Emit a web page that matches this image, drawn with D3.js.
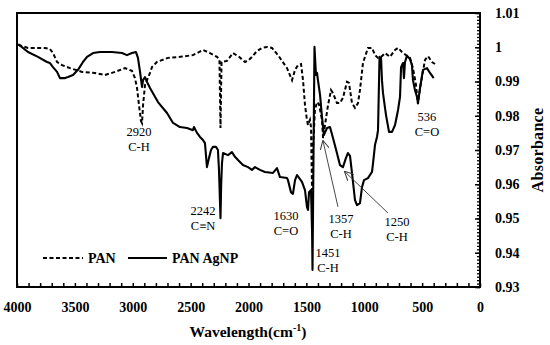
<!DOCTYPE html>
<html>
<head>
<meta charset="utf-8">
<script src="https://cdn.jsdelivr.net/npm/d3@7"></script>
<style>
  body { margin: 0; background: #fff; }
  svg { display: block; }
  text { font-family: "Liberation Serif", "Times New Roman", serif; fill: #000; }
</style>
</head>
<body>
<div id="chart"></div>
<script>
// PAN (dashed) spectrum: wavenumber (cm-1) and absorbance
const panWn = [3990, 3905, 3862, 3758, 3715, 3689, 3654, 3611, 3542, 3438, 3326, 3240, 3153, 3067, 3007, 2981, 2963, 2946, 2929, 2920, 2911, 2894, 2877, 2851, 2834, 2791, 2696, 2592, 2480, 2393, 2333, 2272, 2251, 2242, 2233, 2186, 2134, 2082, 2030, 1996, 1970, 1927, 1883, 1840, 1797, 1745, 1667, 1624, 1598, 1572, 1546, 1529, 1512, 1495, 1486, 1469, 1460, 1451, 1443, 1426, 1408, 1391, 1365, 1356, 1339, 1313, 1287, 1270, 1236, 1210, 1184, 1149, 1132, 1106, 1080, 1054, 1037, 1011, 968, 933, 907, 881, 847, 821, 778, 734, 708, 674, 639, 605, 579, 553, 536, 518, 501, 475, 449, 415, 389];
const panAbs = [1.0007, 0.9998, 0.9998, 0.9998, 0.9995, 0.9983, 0.9957, 0.9948, 0.9939, 0.9928, 0.9925, 0.9919, 0.9928, 0.9939, 0.9931, 0.9910, 0.9881, 0.9831, 0.9785, 0.9779, 0.9831, 0.9890, 0.9904, 0.9925, 0.9942, 0.9957, 0.9969, 0.9972, 0.9977, 0.9992, 0.9983, 0.9972, 0.9963, 0.9764, 0.9957, 0.9960, 0.9983, 0.9972, 0.9957, 0.9963, 0.9972, 0.9989, 0.9998, 1.0001, 0.9998, 0.9977, 0.9939, 0.9904, 0.9934, 0.9948, 0.9951, 0.9904, 0.9831, 0.9788, 0.9773, 0.9788, 0.9767, 0.9583, 0.9700, 0.9817, 0.9840, 0.9834, 0.9788, 0.9735, 0.9773, 0.9831, 0.9875, 0.9866, 0.9837, 0.9837, 0.9852, 0.9899, 0.9896, 0.9837, 0.9823, 0.9837, 0.9875, 0.9954, 0.9998, 0.9998, 0.9977, 0.9969, 0.9974, 0.9983, 0.9972, 0.9992, 0.9998, 0.9986, 0.9977, 0.9969, 0.9939, 0.9890, 0.9834, 0.9881, 0.9913, 0.9963, 0.9974, 0.9957, 0.9951];

// PAN AgNP (solid) spectrum
const agWn = [3990, 3905, 3819, 3741, 3715, 3689, 3654, 3629, 3585, 3559, 3516, 3473, 3430, 3395, 3343, 3283, 3179, 3093, 3050, 3007, 2972, 2955, 2937, 2920, 2911, 2894, 2877, 2851, 2782, 2704, 2652, 2592, 2531, 2480, 2471, 2445, 2419, 2393, 2376, 2359, 2341, 2324, 2307, 2281, 2264, 2255, 2242, 2236, 2229, 2220, 2177, 2143, 2117, 2091, 2048, 2004, 1970, 1944, 1901, 1858, 1788, 1754, 1728, 1667, 1659, 1633, 1616, 1598, 1581, 1555, 1538, 1512, 1495, 1486, 1477, 1460, 1451, 1447, 1438, 1430, 1417, 1408, 1400, 1382, 1365, 1348, 1322, 1296, 1270, 1236, 1210, 1184, 1158, 1141, 1123, 1106, 1080, 1063, 1037, 1019, 1002, 968, 933, 924, 907, 890, 881, 868, 855, 847, 838, 812, 786, 760, 734, 708, 691, 682, 665, 657, 648, 631, 605, 588, 579, 562, 544, 536, 518, 493, 458, 432, 400];
const agAbs = [1.0009, 0.9986, 0.9972, 0.9957, 0.9954, 0.9942, 0.9928, 0.9910, 0.9910, 0.9913, 0.9919, 0.9934, 0.9957, 0.9972, 0.9983, 0.9986, 0.9986, 0.9983, 0.9977, 0.9983, 0.9986, 0.9969, 0.9928, 0.9884, 0.9904, 0.9913, 0.9899, 0.9881, 0.9840, 0.9808, 0.9779, 0.9767, 0.9764, 0.9758, 0.9767, 0.9750, 0.9738, 0.9729, 0.9720, 0.9650, 0.9677, 0.9700, 0.9709, 0.9709, 0.9700, 0.9642, 0.9501, 0.9600, 0.9662, 0.9691, 0.9685, 0.9694, 0.9680, 0.9671, 0.9656, 0.9650, 0.9642, 0.9650, 0.9642, 0.9636, 0.9633, 0.9647, 0.9621, 0.9618, 0.9612, 0.9577, 0.9572, 0.9612, 0.9627, 0.9615, 0.9607, 0.9583, 0.9534, 0.9525, 0.9577, 0.9583, 0.9466, 0.9350, 0.9700, 1.0001, 0.9919, 0.9925, 0.9904, 0.9861, 0.9796, 0.9744, 0.9764, 0.9767, 0.9735, 0.9691, 0.9656, 0.9650, 0.9677, 0.9691, 0.9683, 0.9633, 0.9554, 0.9539, 0.9545, 0.9592, 0.9612, 0.9618, 0.9636, 0.9662, 0.9715, 0.9738, 0.9758, 0.9972, 0.9969, 0.9904, 0.9866, 0.9802, 0.9753, 0.9753, 0.9773, 0.9817, 0.9855, 0.9942, 0.9954, 0.9910, 0.9957, 0.9975, 0.9966, 0.9948, 0.9904, 0.9875, 0.9855, 0.9837, 0.9881, 0.9934, 0.9939, 0.9925, 0.9910];

const xTicks = [4000, 3500, 3000, 2500, 2000, 1500, 1000, 500, 0];
const yTicks = [0.93, 0.94, 0.95, 0.96, 0.97, 0.98, 0.99, 1, 1.01];

// peak labels: first line centre in data units
const peakLabels = [
  {wn: 2946, a: 0.9753, top: '2920', bottom: 'C-H'},
  {wn: 2393, a: 0.9522, top: '2242', bottom: 'C\u2261N'},
  {wn: 1676, a: 0.9507, top: '1630', bottom: 'C=O'},
  {wn: 1313, a: 0.9399, top: '1451', bottom: 'C-H'},
  {wn: 1201, a: 0.9501, top: '1357', bottom: 'C-H'},
  {wn: 717,  a: 0.9490, top: '1250', bottom: 'C-H'},
  {wn: 458,  a: 0.9796, top: '536',  bottom: 'C=O'}
];
// arrows from label to peak
const arrows = [
  {fromWn: 1227, fromA: 0.9534, toWn: 1356, toA: 0.9726},
  {fromWn: 795,  fromA: 0.9516, toWn: 1166, toA: 0.9636}
];

const width = 550;
const height = 345;
const plot = {left: 17, right: 480, top: 13, bottom: 287};

const svg = d3.select('#chart').append('svg')
  .attr('width', width)
  .attr('height', height);

const x = d3.scaleLinear().domain([4000, 0]).range([plot.left, plot.right]);
const y = d3.scaleLinear().domain([0.93, 1.01]).range([plot.bottom, plot.top]);

svg.append('defs').append('marker')
  .attr('id', 'arrowhead')
  .attr('viewBox', '0 0 10 10')
  .attr('refX', 9).attr('refY', 5)
  .attr('markerWidth', 9).attr('markerHeight', 9)
  .attr('markerUnits', 'userSpaceOnUse')
  .attr('orient', 'auto')
  .append('path')
  .attr('d', 'M0,0 L10,5 L0,10')
  .attr('fill', 'none')
  .attr('stroke', '#333')
  .attr('stroke-width', 1.1);

// bottom axis: minor ticks every 100, labels every 500
svg.append('g')
  .attr('transform', `translate(0,${plot.bottom})`)
  .call(d3.axisBottom(x).tickValues(d3.range(0, 4001, 100)).tickSize(-4).tickFormat(''))
  .call(g => g.select('.domain').remove())
  .call(g => g.selectAll('line').attr('stroke', '#000').attr('stroke-width', 1.5));

svg.append('g')
  .attr('transform', `translate(0,${plot.bottom})`)
  .call(d3.axisBottom(x).tickValues(xTicks).tickSize(0).tickPadding(15).tickFormat(d3.format('d')))
  .call(g => g.select('.domain').remove())
  .call(g => g.selectAll('text')
    .style('font-family', '"Liberation Serif", serif')
    .style('font-size', '14px')
    .style('font-weight', 'bold'));

// right axis: minor ticks every 0.001
svg.append('g')
  .attr('transform', `translate(${plot.right},0)`)
  .call(d3.axisRight(y).tickValues(d3.range(0, 81).map(i => 0.93 + i * 0.001)).tickSize(-3).tickFormat(''))
  .call(g => g.select('.domain').remove())
  .call(g => g.selectAll('line').attr('stroke', '#000').attr('stroke-width', 1.3));

svg.append('g')
  .attr('transform', `translate(${plot.right},0)`)
  .call(d3.axisRight(y).tickValues(yTicks).tickSize(-5).tickPadding(15).tickFormat(d => String(+d.toFixed(2))))
  .call(g => g.select('.domain').remove())
  .call(g => g.selectAll('line').attr('stroke', '#000').attr('stroke-width', 1.5))
  .call(g => g.selectAll('text')
    .style('font-family', '"Liberation Serif", serif')
    .style('font-size', '14px')
    .style('font-weight', 'bold'));

// frame
svg.append('rect')
  .attr('x', plot.left).attr('y', plot.top)
  .attr('width', plot.right - plot.left)
  .attr('height', plot.bottom - plot.top)
  .attr('fill', 'none')
  .attr('stroke', '#000')
  .attr('stroke-width', 2);

const line = d3.line()
  .x(d => x(d[0]))
  .y(d => y(d[1]));

svg.append('path')
  .datum(panWn.map((w, i) => [w, panAbs[i]]))
  .attr('d', line)
  .attr('fill', 'none')
  .attr('stroke', '#000')
  .attr('stroke-width', 2)
  .attr('stroke-dasharray', '4,2.5');

svg.append('path')
  .datum(agWn.map((w, i) => [w, agAbs[i]]))
  .attr('d', line)
  .attr('fill', 'none')
  .attr('stroke', '#000')
  .attr('stroke-width', 2.1)
  .attr('stroke-linejoin', 'round');

// peak annotations
const labels = svg.append('g')
  .style('font-size', '12.5px')
  .attr('text-anchor', 'middle');

peakLabels.forEach(p => {
  labels.append('text')
    .attr('x', x(p.wn)).attr('y', y(p.a))
    .attr('dy', '0.35em')
    .text(p.top);
  labels.append('text')
    .attr('x', x(p.wn)).attr('y', y(p.a) + 15)
    .attr('dy', '0.35em')
    .text(p.bottom);
});

svg.selectAll('.arrow')
  .data(arrows)
  .enter()
  .append('line')
  .attr('class', 'arrow')
  .attr('x1', d => x(d.fromWn)).attr('y1', d => y(d.fromA))
  .attr('x2', d => x(d.toWn)).attr('y2', d => y(d.toA))
  .attr('stroke', '#333')
  .attr('stroke-width', 0.9)
  .attr('marker-end', 'url(#arrowhead)');

// legend
const legend = svg.append('g')
  .style('font-size', '14px')
  .style('font-weight', 'bold');

legend.append('line')
  .attr('x1', 43).attr('x2', 83).attr('y1', 258).attr('y2', 258)
  .attr('stroke', '#000').attr('stroke-width', 2)
  .attr('stroke-dasharray', '4,2.5');
legend.append('text').attr('x', 88).attr('y', 258).attr('dy', '0.35em').text('PAN');

legend.append('line')
  .attr('x1', 128).attr('x2', 167).attr('y1', 258).attr('y2', 258)
  .attr('stroke', '#000').attr('stroke-width', 2);
legend.append('text').attr('x', 172).attr('y', 258).attr('dy', '0.35em').text('PAN AgNP');

// axis titles
const xTitle = svg.append('text')
  .attr('x', 248).attr('y', 337)
  .attr('text-anchor', 'middle')
  .style('font-size', '15.5px')
  .style('font-weight', 'bold');
xTitle.append('tspan').text('Wavelength(cm');
xTitle.append('tspan').attr('dy', -6).style('font-size', '10px').text('-1');
xTitle.append('tspan').attr('dy', 6).text(')');

svg.append('text')
  .attr('transform', 'translate(543,150) rotate(-90)')
  .attr('text-anchor', 'middle')
  .style('font-size', '16px')
  .style('font-weight', 'bold')
  .style('letter-spacing', '0.3px')
  .text('Absorbance');
</script>
</body>
</html>
